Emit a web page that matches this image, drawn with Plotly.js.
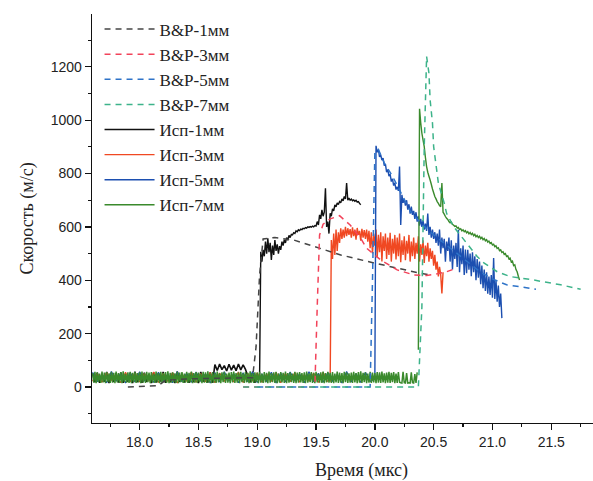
<!DOCTYPE html>
<html>
<head>
<meta charset="utf-8">
<script src="https://cdn.plot.ly/plotly-3.0.1.min.js"></script>
<style>
html,body{margin:0;padding:0;background:#fff;overflow:hidden;}
#chart{width:631px;height:481px;}
</style>
</head>
<body>
<div id="chart"></div>
<script>
// ---------- DATA ----------
// Experimental (Исп) series: sampled signals, start time + sample step (мкс)
const blackBaseT0 = 17.60, blackBaseDt = 0.02;
const blackBase = [50,18,54,16,45,20,56,15,48,19,52,17,55,16,44,20,53,15,57,18,49,16,54,19,47,15,55,17,51,20,56,16,46,18,53,15,57,19,50,17,45,16,54,18,52,15,56,20,48,17,55,16,
  84,62,86,65,80,60,85,63,82,61,86,64,83,66,
  40,18,52,16,45,30];
const blackRiseT0 = 19.02, blackRiseDt = 0.01;
const blackRise = [35,507,470,514,490,545,500,557,505,540,476,530,495,551,510,535,500,528,514,545,530,552,540,560,550,568,560,572,570,578,575,585,582,589,586,592,590,595,593,597,595,600,598,601,599,603,600,605,603,620,607,645,630,664,640,655,745,600,620,575,651,640,668,660,683,675,690,684,695,690,705,698,714,705,764,700,708,700,704,698,701,696,700,693,695,688,683];

const redBaseT0 = 17.60, redBaseDt = 0.04;
const redBase = [22,50,18,54,25,47,16,55,20,52,19,49,24,56,17,51,21,53,15,48,23,55,18,50,20,54,16,52,22,47,19,56,17,50,24,53,18,49,21,55,16,51,20,54,18,46,23,52,17,55,20];
const redRiseT0 = 19.62, redRiseDt = 0.01;
const redRise = [20,551,480,575,495,590,510,580,540,595,555,590,560,600,565,595,570,592,560,598,565,590,552,596,570,585,548,593,560,588,555,590,545,585,520,580,500,575,530,590,485,570,505,580,470,565,510,575,480,560,495,578,470,555,500,570,478,560,490,575,468,550,495,565,475,548,500,570,470,545,490,560,480,540,500,565,470,535,495,550,465,530,490,540,470,520,480,510,455,495,440,470,414,450,420,351,430];

const blueBaseT0 = 17.60, blueBaseDt = 0.04;
const blueBase = [55,20,48,16,58,22,50,15,53,19,57,24,46,17,55,21,49,16,58,20,52,18,56,23,47,15,54,19,57,22,50,16,53,20,58,17,48,21,55,15,52,19,56,24,49,16,57,20,51,18,54,22,47,15,58,19,50,17,55,21,30];
const blueRiseT0 = 20.00, blueRiseDt = 0.01;
const blueRise = [30,904,880,890,862,870,850,858,830,835,805,815,790,798,770,780,755,765,740,750,735,826,607,720,690,705,680,700,665,685,650,676,645,660,630,655,620,640,605,630,600,625,590,612,585,650,570,600,560,590,555,580,540,575,530,590,500,560,520,555,470,545,510,560,470,550,440,530,480,540,450,589,430,520,460,530,420,515,426,514,440,500,415,505,430,490,400,480,410,470,385,455,370,440,360,430,350,414,345,420,335,483,330,400,320,380,300,350,258];

const greenBaseT0 = 17.60, greenBaseDt = 0.01;
const greenBase = [
  52,16,57,14,55,18,50,15,58,17,54,14,56,19,51,15,57,16,53,14,
  58,17,52,15,56,14,59,18,50,16,55,15,57,14,53,18,56,15,52,17,
  55,14,58,16,51,15,57,18,54,14,56,16,50,15,58,17,53,14,57,16,
  52,18,56,15,59,14,53,16,55,17,51,15,57,14,54,18,56,15,50,16,
  57,15,53,17,58,14,52,16,56,15,54,18,50,14,57,16,55,15,59,17,
  51,14,56,16,53,15,58,17,52,14,55,18,57,15,50,16,54,14,56,17,
  58,15,52,16,55,14,57,18,51,15,56,17,53,14,59,16,52,15,55,18,
  54,14,57,16,50,15,56,17,53,14,58,16,52,18,55,15,57,14,51,16,
  56,17,53,15,58,14,52,16,55,18,50,15,57,14,54,16,56,17,52,15,
  55,14,58,16,51,18,56,15,53,14,57,17,50,16,55,15,58,14,52,17,
  57,16,53,15,56,14,50,17,58,15,54,16,52,14,57,18,55,15,51,16,
  54,15,57,17,52,14,56,16,59,15,53,18,55,14,50,16,57,15,54,17,
  52,14,56,16,55,15,58,17,51,14,54,16,57,15,53,18,56,14,50,15,
  56,18,16,15,57,16,15,52,15,16,15,55,16,15,48,15,55];
const greenRiseT0 = 20.37, greenRiseDt = 0.01;
const greenRise = [140,1043,990,951,925,901,860,826,805,790,776,760,742,728,714,705,695,688,680,676,764,655,648,639,632,628,620,615,618,610,606,602,604,596,598,590,593,585,589,582,586,578,582,574,579,571,576,567,572,563,568,560,565,556,561,552,557,548,552,543,547,538,541,532,535,526,529,519,522,511,514,504,507,497,500,489,492,480,483,469,472,455,458,440,432,415,401];

// Model (B&P) curves: time (мкс) and velocity (м/с)
const bp1T = [17.90,18.00,18.16,18.22,18.40,18.60,18.80,18.96,18.99,19.02,19.05,19.15,19.31,19.54,19.71,20.00,20.19,20.39,20.47];
const bp1V = [0,2,5,25,30,32,33,35,150,420,555,560,551,520,495,464,445,426,420];
const bp3T = [18.88,19.49,19.51,19.53,19.56,19.62,19.70,19.79,19.88,19.93,20.05,20.19,20.33,20.44,20.53,20.61,20.66];
const bp3V = [0,0,300,570,610,630,642,607,557,520,476,439,420,418,424,432,440];
const bp5T = [19.00,19.96,19.98,20.00,20.03,20.08,20.15,20.20,20.30,20.40,20.50,20.60,20.70,20.80,20.90,21.00,21.12,21.25,21.37];
const bp5V = [0,0,400,880,890,840,790,745,660,610,570,535,500,465,430,405,383,375,366];
const bp7T = [18.88,20.37,20.40,20.42,20.44,20.46,20.47,20.49,20.50,20.52,20.54,20.59,20.61,20.67,20.78,20.87,20.93,21.04,21.15,21.35,21.58,21.75];
const bp7V = [0,0,300,900,1239,1176,1076,989,901,826,764,689,651,601,539,489,464,432,414,401,383,366];

const names = ['B&amp;P-1мм','B&amp;P-3мм','B&amp;P-5мм','B&amp;P-7мм','Исп-1мм','Исп-3мм','Исп-5мм','Исп-7мм'];
const xTicks = [18.0,18.5,19.0,19.5,20.0,20.5,21.0,21.5];
const xTickText = ['18.0','18.5','19.0','19.5','20.0','20.5','21.0','21.5'];
const yTicks = [0,200,400,600,800,1000,1200];

// ---------- STYLE ----------
const cExp = ['#111111','#f04822','#1c4fb0','#3a8a2c'];
const cBP  = ['#454545','#f2435a','#2e73c8','#3db38a'];
const baseWidth = [1.6,1.2,1.2,1.5];

const traces = [];
function expPair(base, bt0, bdt, rise, rt0, rdt, color, name, rank, bw) {
  traces.push({type:'scatter', mode:'lines', y:base, x0:bt0, dx:bdt,
    line:{color:color, width:bw, simplify:false}, showlegend:false, legendgroup:name, hoverinfo:'skip'});
  traces.push({type:'scatter', mode:'lines', y:rise, x0:rt0, dx:rdt, name:name,
    line:{color:color, width:1.4, simplify:false}, legendgroup:name, legendrank:rank});
}
expPair(blackBase, blackBaseT0, blackBaseDt, blackRise, blackRiseT0, blackRiseDt, cExp[0], names[4], 5, baseWidth[0]);
expPair(redBase, redBaseT0, redBaseDt, redRise, redRiseT0, redRiseDt, cExp[1], names[5], 6, baseWidth[1]);
expPair(blueBase, blueBaseT0, blueBaseDt, blueRise, blueRiseT0, blueRiseDt, cExp[2], names[6], 7, baseWidth[2]);
expPair(greenBase, greenBaseT0, greenBaseDt, greenRise, greenRiseT0, greenRiseDt, cExp[3], names[7], 8, baseWidth[3]);

const bpT = [bp1T,bp3T,bp5T,bp7T], bpV = [bp1V,bp3V,bp5V,bp7V];
for (let i=0;i<4;i++){
  traces.push({type:'scatter', mode:'lines', x:bpT[i], y:bpV[i], name:names[i],
    line:{color:cBP[i], width:1.5, dash:'6px,5px'}, legendgroup:names[i], legendrank:i+1});
}

const axisFont = {family:'"Liberation Sans", Arial, sans-serif', size:14, color:'#222'};
const titleFont = {family:'"Liberation Serif", "Times New Roman", serif', size:18, color:'#222'};

const layout = {
  width:631, height:481,
  margin:{l:92, r:0, t:14, b:58},
  paper_bgcolor:'#fff', plot_bgcolor:'#fff',
  showlegend:true,
  legend:{x:0.014, y:1.006, xanchor:'left', yanchor:'top', bgcolor:'rgba(0,0,0,0)',
    font:{family:'"Liberation Serif", "Times New Roman", serif', size:17, color:'#222'},
    tracegroupgap:4, itemwidth:50, traceorder:'normal'},
  xaxis:{range:[17.595, 22.178], tickmode:'array', tickvals:xTicks, ticktext:xTickText,
    showgrid:false, zeroline:false, showline:true, linecolor:'#111', linewidth:1.3,
    ticks:'outside', ticklen:6, tickwidth:1.3, tickcolor:'#111', tickfont:axisFont,
    minor:{dtick:0.25, tick0:0, ticks:'outside', ticklen:3, tickwidth:1.2, tickcolor:'#111', showgrid:false},
    title:{text:'Время (мкс)', font:titleFont, standoff:16}},
  yaxis:{range:[-135, 1398], tickmode:'array', tickvals:yTicks,
    showgrid:false, zeroline:false, showline:true, linecolor:'#111', linewidth:1.3,
    ticks:'outside', ticklen:6, tickwidth:1.3, tickcolor:'#111', tickfont:axisFont,
    minor:{dtick:100, tick0:0, ticks:'outside', ticklen:3, tickwidth:1.2, tickcolor:'#111', showgrid:false},
    title:{text:'Скорость (м/с)', font:titleFont, standoff:12}}
};

Plotly.newPlot('chart', traces, layout, {displayModeBar:false, staticPlot:true});
</script>
</body>
</html>
